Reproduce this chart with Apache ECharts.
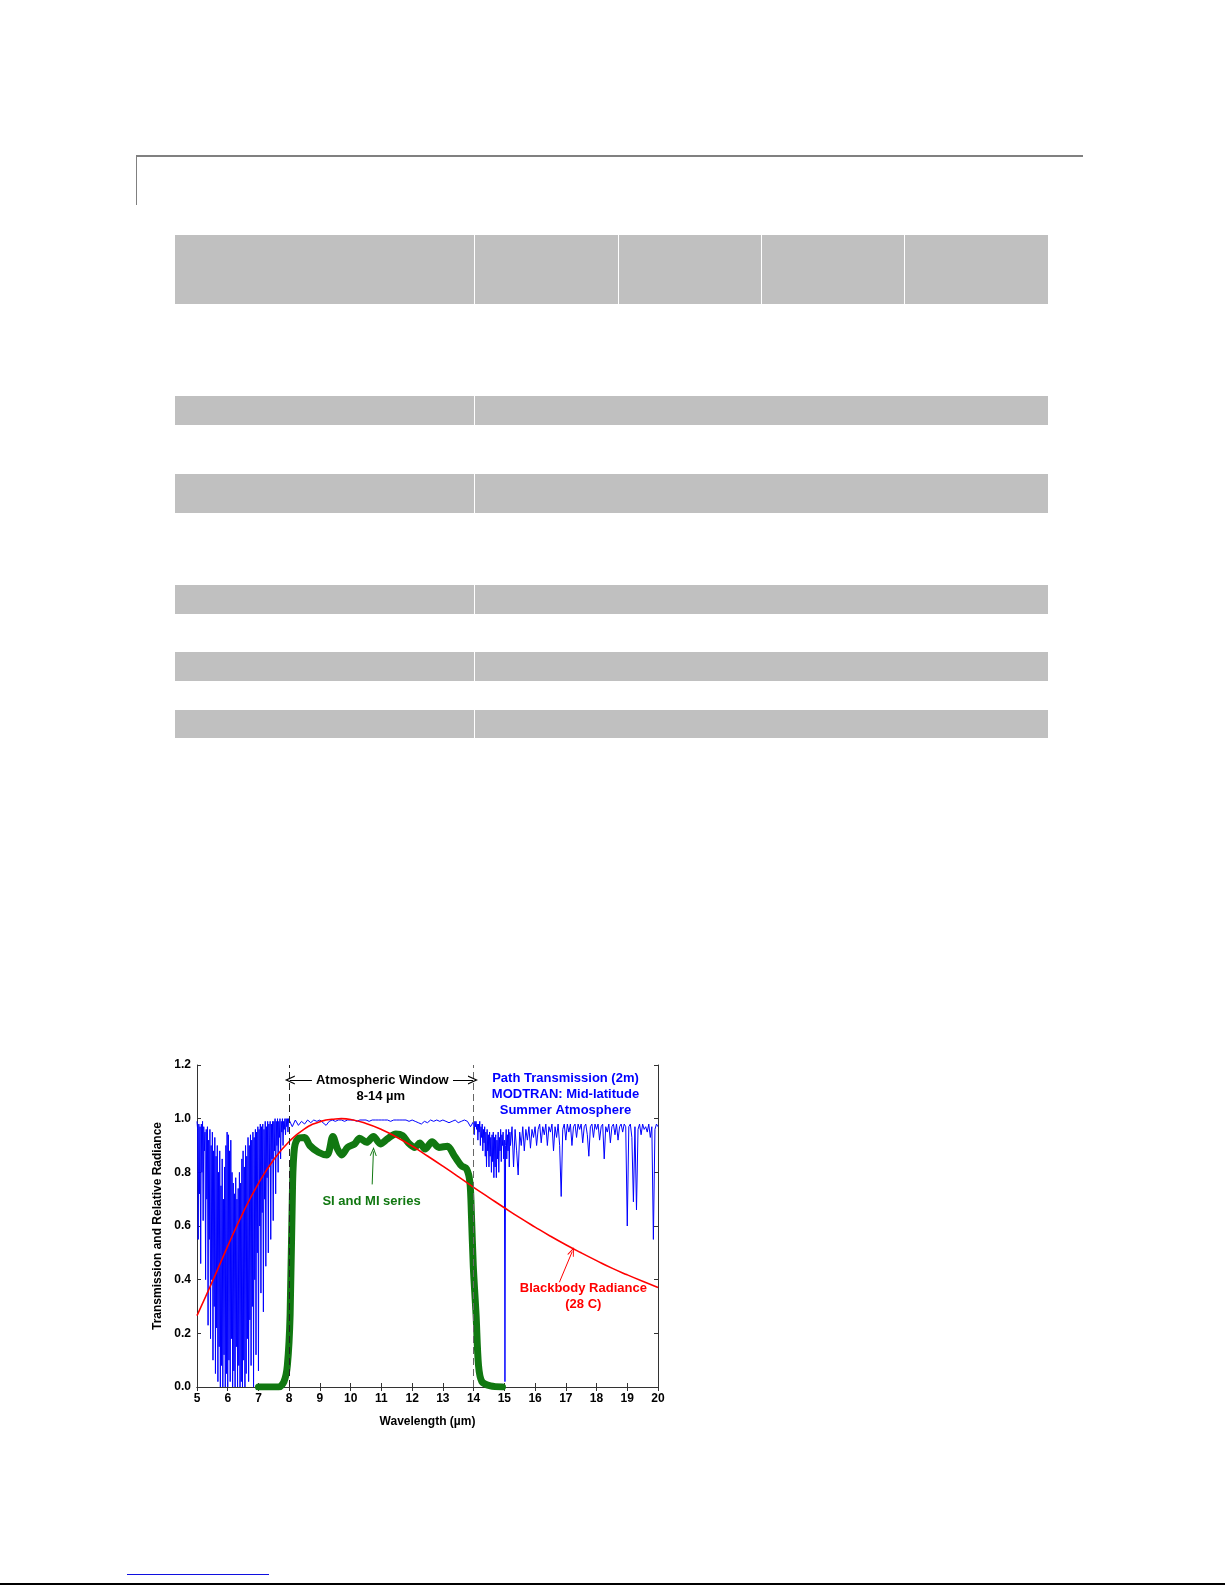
<!DOCTYPE html>
<html>
<head>
<meta charset="utf-8">
<script src="https://cdn.jsdelivr.net/npm/echarts@6/dist/echarts.min.js"></script>
<style>
  html, body { margin: 0; padding: 0; background: #fff; }
  body { position: relative; width: 1225px; height: 1585px; overflow: hidden; }
  .cell { position: absolute; background: #c0c0c0; }
  .rule { position: absolute; background: #808080; }
  #chart { position: absolute; left: 120px; top: 1040px; width: 580px; height: 410px; }
</style>
</head>
<body>
<!-- page header rule -->
<div class="rule" style="left:136px;top:155px;width:947px;height:2px"></div>
<div class="rule" style="left:136px;top:155px;width:1px;height:50px"></div>

<!-- table skeleton -->
<div class="cell" style="left:175px;top:235px;width:299px;height:69px"></div>
<div class="cell" style="left:475px;top:235px;width:143px;height:69px"></div>
<div class="cell" style="left:619px;top:235px;width:142px;height:69px"></div>
<div class="cell" style="left:762px;top:235px;width:142px;height:69px"></div>
<div class="cell" style="left:905px;top:235px;width:143px;height:69px"></div>

<div class="cell" style="left:175px;top:396px;width:299px;height:29px"></div>
<div class="cell" style="left:475px;top:396px;width:573px;height:29px"></div>
<div class="cell" style="left:175px;top:474px;width:299px;height:39px"></div>
<div class="cell" style="left:475px;top:474px;width:573px;height:39px"></div>
<div class="cell" style="left:175px;top:585px;width:299px;height:29px"></div>
<div class="cell" style="left:475px;top:585px;width:573px;height:29px"></div>
<div class="cell" style="left:175px;top:652px;width:299px;height:29px"></div>
<div class="cell" style="left:475px;top:652px;width:573px;height:29px"></div>
<div class="cell" style="left:175px;top:710px;width:299px;height:28px"></div>
<div class="cell" style="left:475px;top:710px;width:573px;height:28px"></div>

<div id="chart"></div>

<!-- footer -->
<div style="position:absolute;left:127px;top:1574px;width:142px;height:1px;background:#1010e0"></div>
<div style="position:absolute;left:0;top:1583px;width:1225px;height:2px;background:#000"></div>

<script>
// ---- Path transmission (MODTRAN, 2 m) ----
// 5 - 8 um, dense water band
const bandAWave = [
  5.00, 5.02, 5.04, 5.06, 5.08, 5.10, 5.12, 5.14, 5.16, 5.18,
  5.20, 5.22, 5.24, 5.26, 5.28, 5.30, 5.32, 5.34, 5.36, 5.38,
  5.40, 5.42, 5.44, 5.46, 5.48, 5.50, 5.52, 5.54, 5.56, 5.58,
  5.60, 5.62, 5.64, 5.66, 5.68, 5.70, 5.72, 5.74, 5.76, 5.78,
  5.80, 5.82, 5.84, 5.86, 5.88, 5.90, 5.92, 5.94, 5.96, 5.98,
  6.00, 6.02, 6.04, 6.06, 6.08, 6.10, 6.12, 6.14, 6.16, 6.18,
  6.20, 6.22, 6.24, 6.26, 6.28, 6.30, 6.32, 6.34, 6.36, 6.38,
  6.40, 6.42, 6.44, 6.46, 6.48, 6.50, 6.52, 6.54, 6.56, 6.58,
  6.60, 6.62, 6.64, 6.66, 6.68, 6.70, 6.72, 6.74, 6.76, 6.78,
  6.80, 6.82, 6.84, 6.86, 6.88, 6.90, 6.92, 6.94, 6.96, 6.98,
  7.00, 7.02, 7.04, 7.06, 7.08, 7.10, 7.12, 7.14, 7.16, 7.18,
  7.20, 7.22, 7.24, 7.26, 7.28, 7.30, 7.32, 7.34, 7.36, 7.38,
  7.40, 7.42, 7.44, 7.46, 7.48, 7.50, 7.52, 7.54, 7.56, 7.58,
  7.60, 7.62, 7.64, 7.66, 7.68, 7.70, 7.72, 7.74, 7.76, 7.78,
  7.80, 7.82, 7.84, 7.86, 7.88, 7.90, 7.92, 7.94, 7.96, 7.98
]
const bandATrans = [
  0.99, 0.96, 0.55, 0.98, 0.72, 0.97, 0.46, 0.98, 0.80, 0.99,
  0.62, 0.97, 0.88, 0.95, 0.40, 0.96, 0.70, 0.97, 0.23, 0.92,
  0.55, 0.96, 0.18, 0.90, 0.40, 0.95, 0.10, 0.88, 0.30, 0.93,
  0.05, 0.86, 0.22, 0.90, 0.02, 0.80, 0.15, 0.88, 0.00, 0.75,
  0.08, 0.85, 0.00, 0.70, 0.12, 0.82, 0.00, 0.90, 0.05, 0.95,
  0.00, 0.94, 0.10, 0.88, 0.02, 0.92, 0.18, 0.80, 0.00, 0.76,
  0.06, 0.72, 0.00, 0.78, 0.15, 0.70, 0.00, 0.74, 0.08, 0.80,
  0.00, 0.76, 0.02, 0.85, 0.00, 0.88, 0.10, 0.82, 0.00, 0.90,
  0.05, 0.86, 0.18, 0.93, 0.02, 0.90, 0.25, 0.94, 0.08, 0.92,
  0.30, 0.95, 0.00, 0.93, 0.40, 0.96, 0.12, 0.95, 0.50, 0.97,
  0.06, 0.96, 0.60, 0.98, 0.35, 0.97, 0.65, 0.98, 0.28, 0.96,
  0.70, 0.99, 0.45, 0.97, 0.78, 0.99, 0.50, 0.98, 0.82, 0.99,
  0.55, 0.98, 0.85, 0.99, 0.62, 0.99, 0.88, 1.00, 0.72, 0.99,
  0.90, 1.00, 0.80, 0.99, 0.93, 1.00, 0.85, 0.99, 0.95, 1.00,
  0.90, 0.99, 0.96, 1.00, 0.94, 1.00, 0.97, 1.00, 0.95, 1.00
]
// 8 - 14 um, the window
const bandBWave = [
  8.0, 8.1, 8.2, 8.3, 8.4, 8.5, 8.6, 8.7, 8.8, 8.9,
  9.0, 9.1, 9.2, 9.3, 9.4, 9.5, 9.6, 9.7, 9.8, 9.9,
  10.0, 10.1, 10.2, 10.3, 10.4, 10.5, 10.6, 10.7, 10.8, 10.9,
  11.0, 11.1, 11.2, 11.3, 11.4, 11.5, 11.6, 11.7, 11.8, 11.9,
  12.0, 12.1, 12.2, 12.3, 12.4, 12.5, 12.6, 12.7, 12.8, 12.9,
  13.0, 13.1, 13.2, 13.3, 13.4, 13.5, 13.6, 13.7, 13.8, 13.9, 14.0
]
const bandBTrans = [
  1.000, 0.970, 0.995, 0.975, 0.990, 0.980, 0.995, 0.985, 0.995, 0.990,
  0.995, 0.985, 0.975, 0.990, 0.995, 0.990, 0.995, 0.995, 0.990, 0.995,
  0.995, 0.995, 0.990, 0.995, 0.995, 0.995, 0.990, 0.995, 0.995, 0.995,
  0.995, 0.995, 0.995, 0.990, 0.995, 0.995, 0.995, 0.995, 0.995, 0.990,
  0.995, 0.990, 0.985, 0.980, 0.990, 0.985, 0.995, 0.990, 0.995, 0.990,
  0.995, 0.990, 0.985, 0.990, 0.995, 0.985, 0.990, 0.995, 0.990, 0.970, 0.990
]
// 14 - 15.2 um, CO2 wing
const bandCWave = [
  14.02, 14.04, 14.06, 14.08, 14.10, 14.12, 14.14, 14.16, 14.18, 14.20,
  14.22, 14.24, 14.26, 14.28, 14.30, 14.32, 14.34, 14.36, 14.38, 14.40,
  14.42, 14.44, 14.46, 14.48, 14.50, 14.52, 14.54, 14.56, 14.58, 14.60,
  14.62, 14.64, 14.66, 14.68, 14.70, 14.72, 14.74, 14.76, 14.78, 14.80,
  14.82, 14.84, 14.86, 14.88, 14.90, 14.92, 14.94, 14.96, 14.98, 15.00,
  15.02, 15.04, 15.06, 15.08, 15.10, 15.12, 15.14, 15.16, 15.18, 15.20
]
const bandCTrans = [
  0.94, 0.99, 0.97, 0.99, 0.96, 0.98, 0.92, 0.98, 0.95, 0.99,
  0.90, 0.97, 0.93, 0.98, 0.88, 0.96, 0.91, 0.97, 0.86, 0.95,
  0.82, 0.96, 0.88, 0.94, 0.82, 0.95, 0.86, 0.93, 0.80, 0.94,
  0.84, 0.95, 0.78, 0.93, 0.82, 0.94, 0.78, 0.92, 0.85, 0.95,
  0.80, 0.93, 0.88, 0.96, 0.84, 0.94, 0.90, 0.95, 0.85, 0.92,
  0.02, 0.90, 0.96, 0.85, 0.94, 0.88, 0.96, 0.82, 0.95, 0.90
]
// 15.2 - 20 um
const bandDWave = [
  15.25, 15.30, 15.35, 15.40, 15.45, 15.50, 15.55, 15.60, 15.65, 15.70,
  15.75, 15.80, 15.85, 15.90, 15.95, 16.00, 16.05, 16.10, 16.15, 16.20,
  16.25, 16.30, 16.35, 16.40, 16.45, 16.50, 16.55, 16.60, 16.65, 16.70,
  16.75, 16.80, 16.85, 16.90, 16.95, 17.00, 17.05, 17.10, 17.15, 17.20,
  17.25, 17.30, 17.35, 17.40, 17.45, 17.50, 17.55, 17.60, 17.65, 17.70,
  17.75, 17.80, 17.85, 17.90, 17.95, 18.00, 18.05, 18.10, 18.15, 18.20,
  18.25, 18.30, 18.35, 18.40, 18.45, 18.50, 18.55, 18.60, 18.65, 18.70,
  18.75, 18.80, 18.85, 18.90, 18.95, 19.00, 19.05, 19.10, 19.15, 19.20,
  19.25, 19.30, 19.35, 19.40, 19.45, 19.50, 19.55, 19.60, 19.65, 19.70,
  19.75, 19.80, 19.85, 19.90, 19.95, 20.00
]
const bandDTrans = [
  0.97, 0.82, 0.96, 0.88, 0.79, 0.95, 0.90, 0.97, 0.88, 0.96,
  0.92, 0.97, 0.89, 0.96, 0.93, 0.97, 0.90, 0.96, 0.98, 0.91,
  0.97, 0.94, 0.98, 0.90, 0.97, 0.95, 0.98, 0.88, 0.97, 0.93,
  0.98, 0.90, 0.71, 0.96, 0.98, 0.92, 0.98, 0.95, 0.98, 0.90,
  0.97, 0.98, 0.93, 0.98, 0.96, 0.98, 0.91, 0.97, 0.98, 0.94,
  0.86, 0.97, 0.98, 0.93, 0.98, 0.96, 0.98, 0.92, 0.97, 0.98,
  0.85, 0.97, 0.95, 0.98, 0.91, 0.97, 0.98, 0.94, 0.98, 0.92,
  0.97, 0.98, 0.95, 0.98, 0.97, 0.60, 0.97, 0.98, 0.93, 0.69,
  0.97, 0.66, 0.96, 0.98, 0.94, 0.98, 0.96, 0.97, 0.95, 0.98,
  0.93, 0.97, 0.55, 0.96, 0.98, 0.97
]

// ---- Blackbody radiance (28 C), relative ----
const bbWave = [5, 5.5, 6, 6.5, 7, 7.5, 8, 8.5, 9, 9.5, 9.7, 10, 10.5, 11, 11.5, 12, 12.5,
  13, 13.5, 14, 14.5, 15, 15.5, 16, 16.5, 17, 17.5, 18, 18.5, 19, 19.5, 20]
const bbRad = [0.266, 0.393, 0.525, 0.650, 0.759, 0.848, 0.915, 0.962, 0.989, 0.999, 1.000, 0.997,
  0.982, 0.960, 0.931, 0.898, 0.861, 0.823, 0.784, 0.744, 0.706, 0.668, 0.631, 0.596,
  0.562, 0.530, 0.500, 0.471, 0.443, 0.418, 0.394, 0.371]

// ---- SI and MI series response ----
const siWave = [7.0, 7.3, 7.66, 7.83, 7.94, 8.03, 8.11, 8.17, 8.28, 8.5, 8.67, 8.95, 9.23, 9.42,
  9.57, 9.71, 9.9, 10.13, 10.29, 10.52, 10.74, 10.97, 11.19, 11.47, 11.69, 11.86, 12.09,
  12.25, 12.42, 12.65, 12.87, 13.15, 13.37, 13.6, 13.77, 13.88, 13.93, 13.99, 14.08,
  14.16, 14.27, 14.55, 14.94]
const siResp = [0, 0, 0, 0.02, 0.08, 0.27, 0.76, 0.89, 0.925, 0.93, 0.90, 0.875, 0.865, 0.934,
  0.887, 0.865, 0.893, 0.906, 0.927, 0.912, 0.934, 0.906, 0.924, 0.943, 0.937, 0.912, 0.893,
  0.909, 0.887, 0.914, 0.893, 0.897, 0.862, 0.825, 0.813, 0.763, 0.64, 0.45, 0.27,
  0.08, 0.02, 0.004, 0]

const xTicks = { min: 5, max: 20, interval: 1 }
const yTicks = { min: 0, max: 1.2, interval: 0.2 }

const zip = (xs, ys) => xs.map((x, i) => [x, ys[i]])
const transData = [].concat(
  zip(bandAWave, bandATrans),
  zip(bandBWave, bandBTrans),
  zip(bandCWave, bandCTrans),
  zip(bandDWave, bandDTrans)
)

const FONT = '"Liberation Sans", Arial, sans-serif'
const chevron = 'path://M0,10 L5,0 L10,10 L8.6,10 L5,2.8 L1.4,10 Z'

const frame = { show: true, lineStyle: { color: '#333', width: 1 } }
const tick = { show: true, inside: true, length: 4, lineStyle: { color: '#333' } }
const tickLabel = { color: '#000', fontSize: 12, fontWeight: 'bold', fontFamily: FONT }

function textPoint(coord, text, color, extra) {
  return {
    coord: coord,
    name: text,
    label: Object.assign({ color: color, fontSize: 13, fontFamily: FONT, lineHeight: 16 }, extra || {})
  }
}

const chart = echarts.init(document.getElementById('chart'))
chart.setOption({
  animation: false,
  backgroundColor: '#fff',
  grid: { left: 77, top: 25, width: 461, height: 322 },
  xAxis: [
    {
      type: 'value', position: 'bottom',
      min: xTicks.min, max: xTicks.max, interval: xTicks.interval,
      axisLine: frame, axisTick: tick,
      axisLabel: Object.assign({ margin: 6 }, tickLabel),
      splitLine: { show: false },
      name: 'Wavelength (µm)', nameLocation: 'middle', nameGap: 29,
      nameTextStyle: { color: '#000', fontSize: 12, fontWeight: 'bold', fontFamily: FONT }
    },
    {
      type: 'value', position: 'top',
      min: xTicks.min, max: xTicks.max, interval: xTicks.interval,
      axisLine: frame, axisTick: tick, axisLabel: { show: false }, splitLine: { show: false }
    }
  ],
  yAxis: [
    {
      type: 'value', position: 'left',
      min: yTicks.min, max: yTicks.max, interval: yTicks.interval,
      axisLine: frame, axisTick: tick,
      axisLabel: Object.assign({ margin: 6, formatter: v => v.toFixed(1) }, tickLabel),
      splitLine: { show: false },
      name: 'Transmission and Relative Radiance', nameLocation: 'middle', nameGap: 33,
      nameTextStyle: { color: '#000', fontSize: 12, fontWeight: 'bold', fontFamily: FONT }
    },
    {
      type: 'value', position: 'right',
      min: yTicks.min, max: yTicks.max, interval: yTicks.interval,
      axisLine: frame, axisTick: tick, axisLabel: { show: false }, splitLine: { show: false }
    }
  ],
  series: [
    {
      name: 'Path Transmission',
      type: 'line',
      data: transData,
      symbol: 'none',
      lineStyle: { color: '#0000ff', width: 1 },
      z: 2,
      markLine: {
        silent: true,
        symbol: ['none', 'none'],
        label: { show: false },
        data: [
          [{ coord: [8, 0], lineStyle: { color: '#222', type: [7, 4], width: 1 } }, { coord: [8, 1.2] }],
          [{ coord: [14, 0], lineStyle: { color: '#666', type: [7, 4], width: 1 } }, { coord: [14, 1.2] }],
          [{ coord: [8.74, 1.144], lineStyle: { color: '#000', type: 'solid', width: 1 } },
            { coord: [8.02, 1.144], symbol: chevron, symbolSize: [9, 10] }],
          [{ coord: [13.33, 1.144], lineStyle: { color: '#000', type: 'solid', width: 1 } },
            { coord: [13.98, 1.144], symbol: chevron, symbolSize: [9, 10] }]
        ]
      },
      markPoint: {
        silent: true,
        symbol: 'rect',
        symbolSize: 1,
        itemStyle: { color: 'rgba(0,0,0,0)' },
        label: { show: true, position: 'inside', formatter: '{b}' },
        data: [
          textPoint([11.03, 1.144], 'Atmospheric Window', '#000', { fontWeight: 'bold' }),
          textPoint([10.98, 1.082], '8-14 µm', '#000', { fontWeight: 'bold' }),
          textPoint([16.99, 1.092], 'Path Transmission (2m)\nMODTRAN: Mid-latitude\nSummer Atmosphere',
            '#0000ff', { fontWeight: 'bold' })
        ]
      }
    },
    {
      name: 'SI and MI series',
      type: 'line',
      data: zip(siWave, siResp),
      symbol: 'none',
      smooth: 0.3,
      lineStyle: { color: '#117811', width: 7, cap: 'round', join: 'round' },
      z: 3,
      markLine: {
        silent: true,
        symbol: ['none', 'none'],
        label: { show: false },
        lineStyle: { color: '#117811', width: 1, type: 'solid' },
        data: [
          [{ coord: [10.70, 0.755] }, { coord: [10.74, 0.878], symbol: chevron, symbolSize: [7, 9] }]
        ]
      },
      markPoint: {
        silent: true,
        symbol: 'rect',
        symbolSize: 1,
        itemStyle: { color: 'rgba(0,0,0,0)' },
        label: { show: true, position: 'inside', formatter: '{b}' },
        data: [
          textPoint([10.68, 0.69], 'SI and MI series', '#117811', { fontWeight: 'bold' })
        ]
      }
    },
    {
      name: 'Blackbody Radiance',
      type: 'line',
      data: zip(bbWave, bbRad),
      symbol: 'none',
      smooth: true,
      lineStyle: { color: '#ff0000', width: 1.6 },
      z: 4,
      markLine: {
        silent: true,
        symbol: ['none', 'none'],
        label: { show: false },
        lineStyle: { color: '#ff0000', width: 1, type: 'solid' },
        data: [
          [{ coord: [16.79, 0.39] }, { coord: [17.21, 0.505], symbol: chevron, symbolSize: [7, 9] }]
        ]
      },
      markPoint: {
        silent: true,
        symbol: 'rect',
        symbolSize: 1,
        itemStyle: { color: 'rgba(0,0,0,0)' },
        label: { show: true, position: 'inside', formatter: '{b}' },
        data: [
          textPoint([17.57, 0.336], 'Blackbody Radiance\n(28 C)', '#ff0000', { fontWeight: 'bold' })
        ]
      }
    }
  ]
})
</script>
</body>
</html>
